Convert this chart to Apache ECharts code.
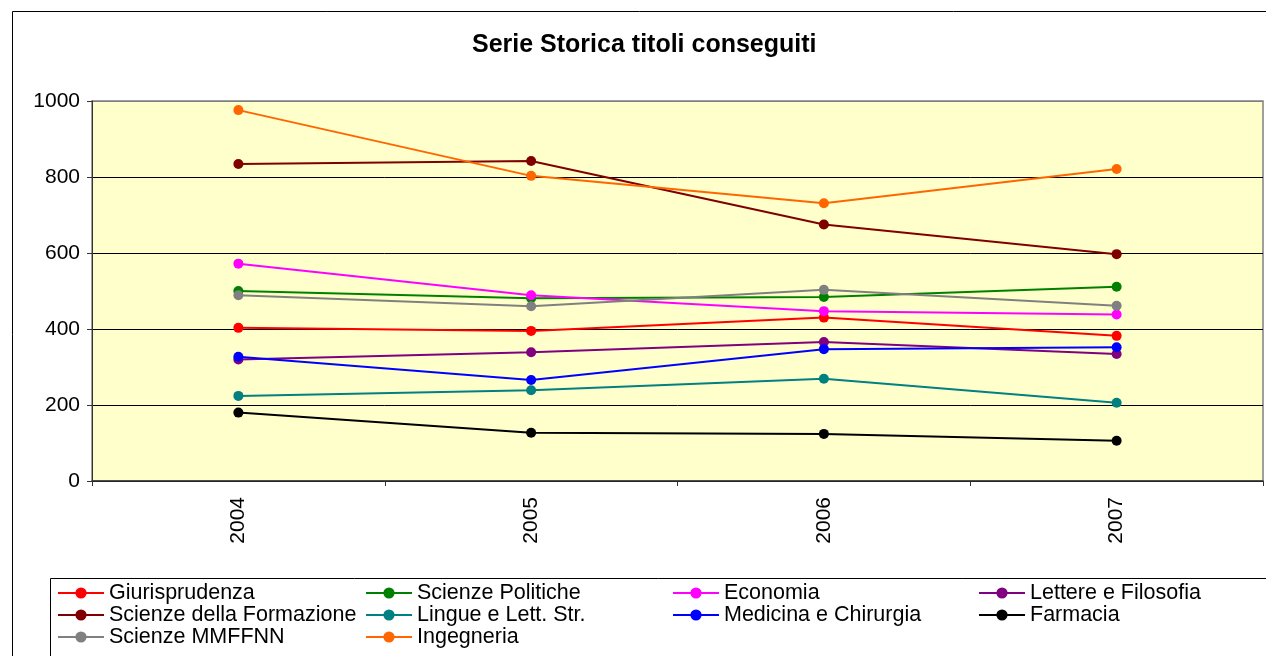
<!DOCTYPE html>
<html>
<head>
<meta charset="utf-8">
<script src="https://cdn.jsdelivr.net/npm/echarts@6/dist/echarts.min.js"></script>
<style>
  html, body { margin: 0; padding: 0; background: #fff; }
  #chart { width: 1266px; height: 656px; }
</style>
</head>
<body>
<div id="chart"></div>
<script>
// Anni accademici
const years = ['2004', '2005', '2006', '2007'];

// Titoli conseguiti per facoltà
const giurisprudenza = [403, 395, 430, 382];
const scienzePolitiche = [500, 481, 484, 511];
const economia = [572, 489, 447, 438];
const lettereFilosofia = [320, 339, 366, 334];
const scienzeFormazione = [834, 842, 675, 597];
const lingueLett = [224, 239, 269, 206];
const medicinaChirurgia = [327, 266, 347, 352];
const farmacia = [180, 127, 124, 106];
const scienzeMMFFNN = [489, 460, 503, 461];
const ingegneria = [976, 803, 731, 821];

const yTicks = [0, 200, 400, 600, 800, 1000];

const facolta = [
  { name: 'Giurisprudenza', data: giurisprudenza, color: '#FF0000' },
  { name: 'Scienze Politiche', data: scienzePolitiche, color: '#008000' },
  { name: 'Economia', data: economia, color: '#FF00FF' },
  { name: 'Lettere e Filosofia', data: lettereFilosofia, color: '#800080' },
  { name: 'Scienze della Formazione', data: scienzeFormazione, color: '#800000' },
  { name: 'Lingue e Lett. Str.', data: lingueLett, color: '#008080' },
  { name: 'Medicina e Chirurgia', data: medicinaChirurgia, color: '#0000FF' },
  { name: 'Farmacia', data: farmacia, color: '#000000' },
  { name: 'Scienze MMFFNN', data: scienzeMMFFNN, color: '#808080' },
  { name: 'Ingegneria', data: ingegneria, color: '#FF6600' }
];

// Legend laid out in four columns
const legendColumns = [
  ['Giurisprudenza', 'Scienze della Formazione', 'Scienze MMFFNN'],
  ['Scienze Politiche', 'Lingue e Lett. Str.', 'Ingegneria'],
  ['Economia', 'Medicina e Chirurgia'],
  ['Lettere e Filosofia', 'Farmacia']
];
const legendLeft = [57, 365, 672, 978];

const FONT = '"Liberation Sans", Arial, sans-serif';

const chart = echarts.init(document.getElementById('chart'), null, { renderer: 'canvas' });

chart.setOption({
  backgroundColor: '#ffffff',
  animation: false,
  title: {
    text: 'Serie Storica titoli conseguiti',
    left: 472,
    top: 33,
    padding: 0,
    textStyle: { fontFamily: FONT, fontSize: 25, fontWeight: 'bold', color: '#000' }
  },
  graphic: [
    {
      type: 'rect',
      shape: { x: 12.5, y: 11.5, width: 1300, height: 700 },
      style: { fill: 'none', stroke: '#000', lineWidth: 1 },
      z: -1
    },
    {
      type: 'rect',
      shape: { x: 50.5, y: 578.5, width: 1300, height: 200 },
      style: { fill: 'none', stroke: '#000', lineWidth: 1 },
      z: -1
    }
  ],
  legend: legendColumns.map((col, i) => ({
    data: col,
    orient: 'vertical',
    left: legendLeft[i],
    top: 582,
    padding: 0,
    itemGap: 0,
    itemWidth: 46,
    itemHeight: 14,
    textStyle: { fontFamily: FONT, fontSize: 21.5, color: '#000', lineHeight: 22 }
  })),
  grid: {
    left: 92,
    right: 3,
    top: 101,
    bottom: 175,
    show: true,
    backgroundColor: '#FFFFCC',
    borderColor: '#808080',
    borderWidth: 1.5
  },
  xAxis: {
    type: 'category',
    data: years,
    boundaryGap: true,
    axisLine: { lineStyle: { color: '#333', width: 1.5 } },
    axisTick: { show: true, length: 5, lineStyle: { color: '#333' } },
    axisLabel: { rotate: 90, margin: 16, fontFamily: FONT, fontSize: 21, color: '#000' }
  },
  yAxis: {
    type: 'value',
    min: yTicks[0],
    max: yTicks[yTicks.length - 1],
    interval: 200,
    axisLine: { show: true, lineStyle: { color: '#333', width: 1 } },
    axisTick: { show: true, length: 5, lineStyle: { color: '#333' } },
    axisLabel: {
      margin: 12,
      fontFamily: FONT,
      fontSize: 21,
      color: '#000',
      formatter: v => String(v)
    },
    splitLine: {
      show: true,
      lineStyle: { color: ['#000', '#000', '#000', '#000', '#000', '#808080'], width: 1 }
    }
  },
  series: facolta.map(f => ({
    name: f.name,
    type: 'line',
    data: f.data,
    color: f.color,
    symbol: 'circle',
    symbolSize: 10,
    lineStyle: { width: 2, color: f.color },
    itemStyle: { color: f.color }
  }))
});
</script>
</body>
</html>
